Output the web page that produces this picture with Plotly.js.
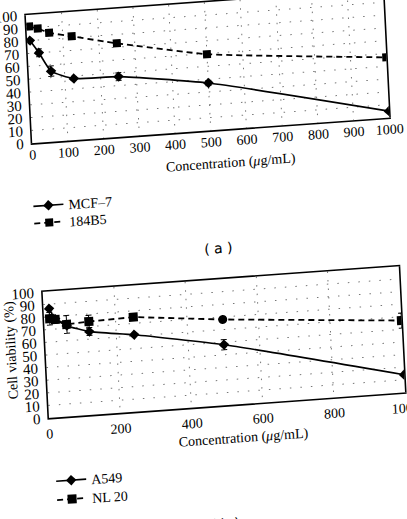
<!DOCTYPE html>
<html>
<head>
<meta charset="utf-8">
<script src="https://cdn.plot.ly/plotly-3.0.1.min.js"></script>
<style>
  html, body { margin: 0; padding: 0; background: #fff; width: 407px; height: 519px; overflow: hidden; }
  /* the scanned figure sits slightly tilted on the page */
  #fig { position: absolute; left: 0; top: 0; width: 470px; height: 560px;
         transform-origin: 0 0; transform: matrix(1, -0.072, 0.05, 1, -30, 2.16); }
  #fig .crisp { shape-rendering: geometricPrecision !important; }
</style>
</head>
<body>
<div id="fig"></div>
<script>
// (a) breast cell lines
const concA = [7.8, 31.25, 62.5, 125, 250, 500, 1000];
const mcf7 = [80, 70, 55, 48, 47, 37, 5];
const mcf7Err = [1, 3, 4, 1, 3, 2, 1];
const b184 = [91, 89, 85, 81, 73, 59.5, 47];
const b184Err = [1.5, 1, 1.5, 1, 1.5, 1, 1];

// (b) lung cell lines
const concB = [15.6, 31.25, 62.5, 125, 250, 500, 1000];
const a549 = [86.5, 78, 72, 66, 61, 48, 14];
const a549Err = [1, 2, 2, 3, 1, 4, 1];
const nl20 = [78.5, 77.5, 73, 74, 75, 68, 57];
const nl20Err = [5, 3, 7, 5, 1, 1, 6];
const nl20Symbols = ['square', 'square', 'square', 'square', 'square', 'circle', 'square'];

const W = 470, H = 560;
const px = v => v / W;
const py = v => 1 - v / H;

const SERIF = 'Liberation Serif, Times New Roman, serif';
const tickFont = { family: SERIF, size: 14, color: '#000' };
const yTickFont = { family: SERIF, size: 15, color: '#000' };

function errs(arr) {
  return { type: 'data', array: arr, visible: true, color: '#000', thickness: 1, width: 3 };
}

const traces = [
  { x: concA, y: mcf7, name: 'MCF\u20137', xaxis: 'x', yaxis: 'y', legend: 'legend',
    mode: 'lines+markers', line: { color: '#000', width: 1.6, shape: 'spline', smoothing: 0.5 },
    marker: { symbol: 'diamond', size: 8, color: '#000' }, error_y: errs(mcf7Err) },
  { x: concA, y: b184, name: '184B5', xaxis: 'x', yaxis: 'y', legend: 'legend3',
    mode: 'lines+markers', line: { color: '#000', width: 1.8, dash: '6px,4px', shape: 'spline', smoothing: 0.4 },
    marker: { symbol: 'square', size: 8, color: '#000' }, error_y: errs(b184Err) },
  { x: concB, y: a549, name: 'A549', xaxis: 'x2', yaxis: 'y2', legend: 'legend2',
    mode: 'lines+markers', line: { color: '#000', width: 1.6, shape: 'spline', smoothing: 0.5 },
    marker: { symbol: 'diamond', size: 8, color: '#000' }, error_y: errs(a549Err) },
  { x: concB, y: nl20, name: 'NL 20', xaxis: 'x2', yaxis: 'y2', legend: 'legend4',
    mode: 'lines+markers', line: { color: '#000', width: 1.8, dash: '6px,4px' },
    marker: { symbol: nl20Symbols, size: 9, color: '#000' }, error_y: errs(nl20Err) }
];

function xAxis(domain, dtick, anchor, standoff) {
  return { domain: domain, anchor: anchor, range: [0, 1000], dtick: dtick, tick0: 0,
    showgrid: true, gridcolor: '#777', griddash: '1.5px,7px', gridwidth: 1,
    showline: true, mirror: true, linecolor: '#000', linewidth: 1.6,
    zeroline: false, ticks: '', ticklabelstandoff: standoff, tickfont: tickFont, fixedrange: true };
}
function yAxis(domain, anchor) {
  return { domain: domain, anchor: anchor, range: [0, 100], dtick: 10, tick0: 0,
    showgrid: true, gridcolor: '#777', griddash: '1.5px,9px', gridwidth: 1,
    showline: true, mirror: true, linecolor: '#000', linewidth: 1.6,
    zeroline: false, ticks: '', ticklabelstandoff: 4, tickfont: yTickFont, fixedrange: true };
}

function legendAt(x, y) {
  return { x: px(x), y: py(y), xanchor: 'left', yanchor: 'top',
    font: { family: SERIF, size: 14, color: '#000' }, bgcolor: 'rgba(0,0,0,0)',
    borderwidth: 0, itemwidth: 30 };
}

const annoFont = { family: SERIF, size: 14, color: '#000' };
const capFont = { family: 'DejaVu Sans, sans-serif', size: 14, color: '#000' };

const layout = {
  width: W, height: H,
  margin: { l: 0, r: 0, t: 0, b: 0 },
  paper_bgcolor: '#fff', plot_bgcolor: '#fff',
  showlegend: true,
  xaxis: xAxis([px(55), px(412)], 100, 'y', -2),
  yaxis: yAxis([py(145), py(17)], 'x'),
  xaxis2: xAxis([px(58), px(414)], 200, 'y2', 2),
  yaxis2: yAxis([py(420), py(294)], 'x2'),
  legend: legendAt(48, 192.4),
  legend3: legendAt(48, 209.6),
  legend2: legendAt(57, 468),
  legend4: legendAt(57, 486.8),
  annotations: [
    { text: 'Concentration (<i>\u03bc</i>g/mL)', xref: 'paper', yref: 'paper', xanchor: 'center', yanchor: 'middle',
      x: px(252), y: py(179), showarrow: false, font: annoFont },
    { text: 'Concentration (<i>\u03bc</i>g/mL)', xref: 'paper', yref: 'paper', xanchor: 'center', yanchor: 'middle',
      x: px(251), y: py(454), showarrow: false, font: annoFont },
    { text: 'Cell viability (%)', xref: 'paper', yref: 'paper', textangle: -90, xanchor: 'center', yanchor: 'middle',
      x: px(23.5), y: py(350.5), showarrow: false, font: annoFont },
    { text: '( a )', xref: 'paper', yref: 'paper', xanchor: 'center', yanchor: 'middle',
      x: px(235), y: py(263), showarrow: false, font: capFont },
    { text: '( b )', xref: 'paper', yref: 'paper', xanchor: 'center', yanchor: 'middle',
      x: px(228), y: py(538), showarrow: false, font: capFont }
  ]
};

Plotly.newPlot('fig', traces, layout, { staticPlot: true, displayModeBar: false });
</script>
</body>
</html>
